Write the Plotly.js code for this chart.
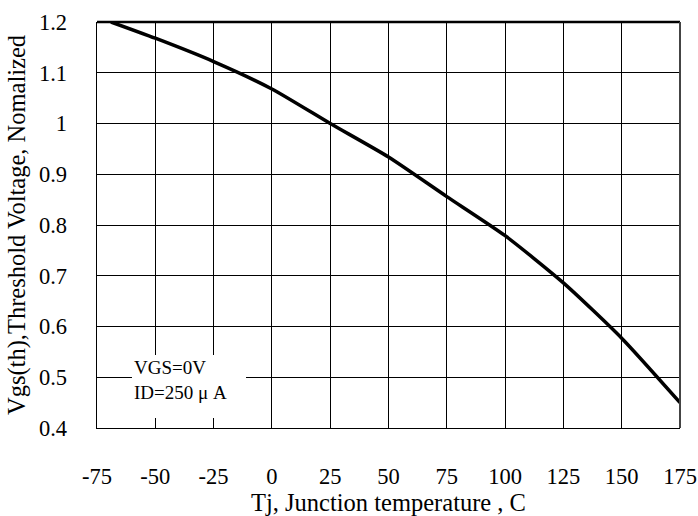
<!DOCTYPE html>
<html>
<head>
<meta charset="utf-8">
<script src="https://cdn.plot.ly/plotly-3.0.1.min.js"></script>
<style>html,body{margin:0;padding:0;background:#fff;}#chart{width:698px;height:516px;}</style>
</head>
<body>
<div id="chart"></div>
<script>
// Data
const junctionTemp = [-69, -50, -25, 0, 25, 50, 75, 100, 125, 150, 175];
const thresholdNorm = [1.2, 1.168, 1.122, 1.068, 1.0, 0.934, 0.856, 0.779, 0.686, 0.577, 0.45];

const xTickVals = [-75, -50, -25, 0, 25, 50, 75, 100, 125, 150, 175];
const xTickText = ["-75", "-50", "-25", "0", "25", "50", "75", "100", "125", "150", "175"];
const yTickVals = [0.4, 0.5, 0.6, 0.7, 0.8, 0.9, 1.0, 1.1, 1.2];
const yTickText = ["0.4", "0.5", "0.6", "0.7", "0.8", "0.9", "1", "1.1", "1.2"];

const xTitle = "Tj, Junction temperature , C";
const yTitle = "Vgs(th),Threshold Voltage, Nomalized";
const noteText = "VGS=0V<br>ID=250 μ A";

const FONT = "Liberation Serif";

const trace = {
  x: junctionTemp,
  y: thresholdNorm,
  type: "scatter",
  mode: "lines",
  line: {color: "#000", width: 3.5, shape: "spline", smoothing: 0.6},
  cliponaxis: false,
  hoverinfo: "x+y"
};

const layout = {
  width: 698,
  height: 516,
  margin: {l: 97, r: 18, t: 22, b: 88, pad: 0},
  paper_bgcolor: "#fff",
  plot_bgcolor: "#fff",
  showlegend: false,
  font: {family: FONT, color: "#000", size: 22},
  xaxis: {
    range: [-75, 175],
    tickmode: "array",
    tickvals: xTickVals,
    ticktext: xTickText,
    showgrid: true,
    gridcolor: "#000",
    gridwidth: 1,
    zeroline: false,
    showline: true,
    linecolor: "#000",
    linewidth: 1,
    ticks: "",
    ticklabelstandoff: 28,
    tickfont: {family: FONT, size: 22.5, color: "#000"},
    title: {text: xTitle, font: {family: FONT, size: 24.5, color: "#000"}, standoff: 10}
  },
  yaxis: {
    range: [0.4, 1.2],
    tickmode: "array",
    tickvals: yTickVals,
    ticktext: yTickText,
    showgrid: true,
    gridcolor: "#000",
    gridwidth: 1,
    zeroline: false,
    showline: true,
    linecolor: "#000",
    linewidth: 1.5,
    ticks: "",
    ticklabelstandoff: 24,
    tickfont: {family: FONT, size: 22.5, color: "#000"},
    title: {text: yTitle, font: {family: FONT, size: 24.5, color: "#000"}, standoff: 6}
  },
  shapes: [
    {type: "rect", xref: "paper", yref: "paper", x0: 0.060, x1: 0.2556, y0: 0.0246, y1: 0.1798,
     layer: "above", fillcolor: "#fff", line: {width: 0}},
    {type: "line", xref: "paper", yref: "paper", x0: 0, x1: 1, y0: 1, y1: 1, line: {color: "#000", width: 2.5}},
    {type: "line", xref: "paper", yref: "paper", x0: 1, x1: 1, y0: 0, y1: 1, line: {color: "#444", width: 2}}
  ],
  annotations: [
    {
      xref: "paper", yref: "paper",
      x: 0.0617, y: 0.1182,
      xanchor: "left", yanchor: "middle",
      text: noteText,
      showarrow: false,
      align: "left",
      borderpad: 0,
      font: {family: FONT, size: 19, color: "#000"}
    }
  ]
};

Plotly.newPlot("chart", [trace], layout, {displayModeBar: false, staticPlot: true});
</script>
</body>
</html>
